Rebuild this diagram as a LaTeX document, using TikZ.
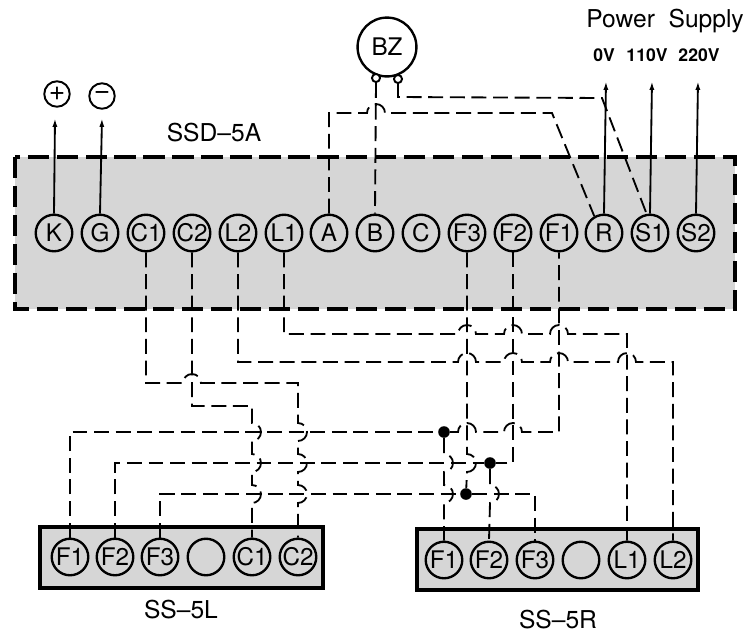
\documentclass[tikz,border=0pt]{standalone}
\usepackage{fontspec}
\setmainfont{TeX Gyre Heros}
\usetikzlibrary{arrows.meta}
\newcommand{\hopH}[2]{-- (#1-9,#2) arc[start angle=180,end angle=0,radius=9]}
\newcommand{\hopV}[2]{-- (#1,#2+9) arc[start angle=90,end angle=-90,radius=9]}
\tikzset{
    terminal/.style={circle,draw,line width=1.35pt,minimum size=20.8pt,inner sep=0pt,font=\fontsize{13.8}{14}\selectfont},
    wire/.style={line width=1.05pt,dash pattern=on 8.5pt off 3.8pt},
    junction/.style={circle,fill=black,minimum size=6.6pt,inner sep=0pt},
    feed/.style={line width=1.05pt,-{Latex[length=5pt,width=2.8pt]}},
    title/.style={font=\fontsize{14}{14}\selectfont},
    volt/.style={font=\fontsize{10}{10}\selectfont\bfseries}
}
\begin{document}
\begin{tikzpicture}[x=.02cm,y=.02cm]
        \useasboundingbox (0,0) rectangle (745,-633);
        \draw[line width=2.3pt,fill=black!16,dash pattern=on 12pt off 4.5pt] (15,-157) rectangle (735,-309);
        \draw[line width=2pt,fill=black!16] (40,-527) rectangle (323,-588);
        \draw[line width=2pt,fill=black!16] (417,-529) rectangle (698,-590);
        \foreach \name/\x in {K/54,G/100,C1/146,C2/192,L2/238,L1/284,A/329,B/375,C/421,F3/467,F2/513,F1/559,R/604,S1/650,S2/696}
        {
            \node[terminal] (t\name) at (\x,-233) {\name};
        }
        \foreach \name/\x in {F1/70,F2/115,F3/160,C1/252,C2/298}
        {
            \node[terminal] (l\name) at (\x,-557) {\name};
        }
        \foreach \name/\x in {F1/444,F2/489,F3/535,L1/627,L2/673}
        {
            \node[terminal] (r\name) at (\x,-560) {\name};
        }
        \node[terminal] (lBlank) at (206,-557) {};
        \node[terminal] (rBlank) at (581,-560) {};
        \node[terminal,minimum size=33.5pt] (bz) at (387,-47) {BZ};
        \node[circle,draw,line width=1.1pt,minimum size=4.6pt,inner sep=0pt,fill=white] (bzA) at (376,-78) {};
        \node[circle,draw,line width=1.1pt,minimum size=4.6pt,inner sep=0pt,fill=white] (bzB) at (398,-79) {};
        \node[terminal,line width=1.1pt,minimum size=14.5pt,font=\fontsize{16}{16}\selectfont] (plus) at (57,-94) {+};
        \node[terminal,line width=1.1pt,minimum size=14.5pt,font=\fontsize{16}{16}\selectfont] (minus) at (102,-96) {\textminus};
        \node[title] (ssd) at (214,-133) {SSD\textendash5A};
        \node[title] (ssl) at (181,-610) {SS\textendash5L};
        \node[title] (ssr) at (558,-620) {SS\textendash5R};
        \node[title] (supply) at (665,-21) {Power\ \ Supply};
        \node[volt] (zero) at (604,-55) {0V};
        \node[volt] (oneten) at (647,-55) {110V};
        \node[volt] (twotwenty) at (699,-55) {220V};
        \foreach \name/\x/\y in {K/55/-118,G/102/-118,R/606/-81,S1/652/-81,S2/698/-81}
        {
            \coordinate (p\name) at (\x,\y);
            \draw[feed] (t\name.north) -- (p\name);
        }
        \node[junction] (dF1) at (444,-432) {};
        \node[junction] (dF2) at (490,-463) {};
        \node[junction] (dF3) at (466,-494) {};
        \draw[wire] (bzA.south) -- (tB.north);
        \draw[wire] (tA.north) -- (329,-113) \hopH{376}{-113} -- (552,-113) -- (tR.120);
        \draw[wire] (bzB.south) -- (398,-97) -- (602,-98) -- (tS1.100);
        \draw[wire] (tC1.south) -- (146,-383) \hopH{192}{-383} -- (298,-383) \hopV{298}{-432} \hopV{298}{-463} \hopV{298}{-494} -- (lC2.north);
        \draw[wire] (tC2.south) -- (192,-406) -- (252,-406) \hopV{252}{-432} \hopV{252}{-463} \hopV{252}{-494} -- (lC1.north);
        \draw[wire] (tL1.south) -- (284,-334) \hopH{467}{-334} \hopH{513}{-334} \hopH{559}{-334} -- (627,-334) -- (rL1.north);
        \draw[wire] (tL2.south) -- (238,-362) \hopH{467}{-362} \hopH{513}{-362} \hopH{559}{-362} \hopH{627}{-362} -- (673,-362) -- (rL2.north);
        \draw[wire] (tF3.south) \hopV{467}{-463} -- (dF3);
        \draw[wire] (tF2.south) -- (513,-463) -- (dF2);
        \draw[wire] (dF1) \hopH{467}{-432} \hopH{513}{-432} -- (559,-432) -- (tF1.south);
        \draw[wire] (lF1.north) -- (70,-432) -- (dF1);
        \draw[wire] (lF2.north) -- (115,-463) -- (dF2);
        \draw[wire] (lF3.north) -- (160,-494) -- (dF3);
        \draw[wire] (dF3) -- (535,-494) -- (rF3.north);
        \draw[wire] (dF1) \hopV{444}{-463} \hopV{444}{-494} -- (rF1.north);
        \draw[wire] (dF2) \hopV{490}{-494} -- (rF2.north);
    \end{tikzpicture}
\end{document}
